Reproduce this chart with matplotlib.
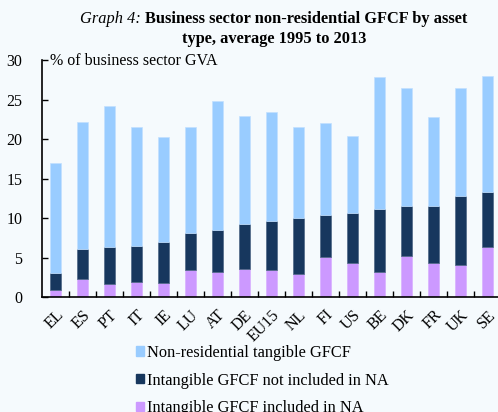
import numpy as np
import matplotlib.pyplot as plt
from matplotlib.patches import Patch

countries = ['EL', 'ES', 'PT', 'IT', 'IE', 'LU', 'AT', 'DE', 'EU15', 'NL',
             'FI', 'US', 'BE', 'DK', 'FR', 'UK', 'SE']
# % of business sector GVA
intangible_in_na = [0.9, 2.3, 1.7, 1.9, 1.85, 3.4, 3.2, 3.6, 3.45, 3.0,
                    5.05, 4.4, 3.2, 5.2, 4.3, 4.05, 6.4]
intangible_not_na = [2.2, 3.8, 4.7, 4.6, 5.15, 4.7, 5.35, 5.7, 6.25, 7.05,
                     5.4, 6.3, 8.0, 6.3, 7.25, 8.8, 6.9]
tangible = [13.9, 16.1, 17.85, 15.0, 13.3, 13.5, 16.35, 13.7, 13.8, 11.5,
            11.55, 9.65, 16.7, 14.95, 11.25, 13.65, 14.7]

plt.rcParams['font.family'] = ['Liberation Serif', 'DejaVu Serif']
bg = '#f5fafd'

fig = plt.figure(figsize=(4.98, 4.12), dpi=100, facecolor=bg)
ax = fig.add_axes([0.0843, 0.2784, 0.9217, 0.5755], facecolor=bg)

x = np.arange(len(countries))
w = 0.41
inc = np.array(intangible_in_na)
notinc = np.array(intangible_not_na)
tang = np.array(tangible)

ax.bar(x, inc, w, color='#cc99ff', edgecolor='#d8b0ff', linewidth=0.5)
ax.bar(x, notinc, w, bottom=inc, color='#17375e', edgecolor='#4d6785', linewidth=0.5)
ax.bar(x, tang, w, bottom=inc + notinc, color='#99ccff', edgecolor='#c2e0ff', linewidth=0.5)

ax.set_xlim(-0.5, len(countries) - 0.5)
ax.set_ylim(0, 30)
ax.set_yticks(range(0, 31, 5))
ax.tick_params(axis='y', direction='in', length=4, labelsize=11.5, pad=14, width=1)
# category ticks sit between the bars
ax.set_xticks(x[:-1] + 0.5, minor=True)
ax.set_xticks(x)
ax.set_xticklabels(countries, rotation=45, ha='right', rotation_mode='anchor')
ax.tick_params(axis='x', which='major', length=0, labelsize=11.5, pad=7)
ax.tick_params(axis='x', which='minor', direction='in', length=4, width=1)
for s in ['top', 'right']:
    ax.spines[s].set_visible(False)
for s in ['left', 'bottom']:
    ax.spines[s].set_linewidth(1.2)

fig.text(0.1, 0.853, '% of business sector GVA', fontsize=11.5, va='center')

# title: italic lead-in, bold text
fig.text(0.291, 0.955, 'Graph 4: ', style='italic', fontsize=11.8, ha='right', va='center')
fig.text(0.291, 0.955, 'Business sector non-residential GFCF by asset',
         weight='bold', fontsize=11.8, ha='left', va='center')
fig.text(0.551, 0.906, 'type, average 1995 to 2013', weight='bold', fontsize=11.8,
         ha='center', va='center')

handles = [Patch(color='#99ccff'), Patch(color='#17375e'), Patch(color='#cc99ff')]
labels = ['Non-residential tangible GFCF', 'Intangible GFCF not included in NA',
          'Intangible GFCF included in NA']
fig.legend(handles, labels, loc='upper left', bbox_to_anchor=(0.273, 0.163),
           frameon=False, fontsize=11.8, handlelength=0.5, handleheight=0.5,
           handletextpad=0.2, labelspacing=0.72, borderaxespad=0, borderpad=0)

fig.savefig('out.png', dpi=100, facecolor=bg)
